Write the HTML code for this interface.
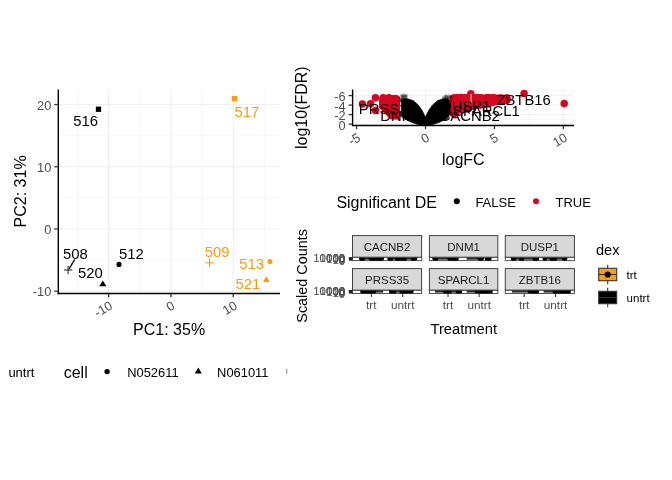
<!DOCTYPE html>
<html><head><meta charset="utf-8"><title>plots</title>
<style>
html,body{margin:0;padding:0;background:#fff;}
body{width:672px;height:480px;overflow:hidden;}
svg{display:block;font-family:"Liberation Sans",sans-serif;will-change:transform;}
</style></head><body>
<svg width="672" height="480" viewBox="0 0 672 480">
<rect width="672" height="480" fill="#fff"/>
<g id="pca">
<line x1="77.5" y1="89.5" x2="77.5" y2="293.45" stroke="#EBEBEB" stroke-width="0.45" />
<line x1="139.8" y1="89.5" x2="139.8" y2="293.45" stroke="#EBEBEB" stroke-width="0.45" />
<line x1="202.1" y1="89.5" x2="202.1" y2="293.45" stroke="#EBEBEB" stroke-width="0.45" />
<line x1="264.4" y1="89.5" x2="264.4" y2="293.45" stroke="#EBEBEB" stroke-width="0.45" />
<line x1="58.3" y1="260.05" x2="280" y2="260.05" stroke="#EBEBEB" stroke-width="0.45" />
<line x1="58.3" y1="197.85" x2="280" y2="197.85" stroke="#EBEBEB" stroke-width="0.45" />
<line x1="58.3" y1="135.65" x2="280" y2="135.65" stroke="#EBEBEB" stroke-width="0.45" />
<line x1="108.65" y1="89.5" x2="108.65" y2="293.45" stroke="#EBEBEB" stroke-width="0.8" />
<line x1="170.95" y1="89.5" x2="170.95" y2="293.45" stroke="#EBEBEB" stroke-width="0.8" />
<line x1="233.25" y1="89.5" x2="233.25" y2="293.45" stroke="#EBEBEB" stroke-width="0.8" />
<line x1="58.3" y1="291.15" x2="280" y2="291.15" stroke="#EBEBEB" stroke-width="0.8" />
<line x1="58.3" y1="228.95" x2="280" y2="228.95" stroke="#EBEBEB" stroke-width="0.8" />
<line x1="58.3" y1="166.75" x2="280" y2="166.75" stroke="#EBEBEB" stroke-width="0.8" />
<line x1="58.3" y1="104.55" x2="280" y2="104.55" stroke="#EBEBEB" stroke-width="0.8" />
<line x1="58.3" y1="89.5" x2="58.3" y2="294.15" stroke="#000" stroke-width="1.4" />
<line x1="57.6" y1="293.45" x2="280" y2="293.45" stroke="#000" stroke-width="1.4" />
<line x1="54.3" y1="291.15" x2="57.7" y2="291.15" stroke="#333333" stroke-width="1.3" />
<text x="51.3" y="296.45" font-size="12.8" fill="#4D4D4D" text-anchor="end" >-10</text>
<line x1="54.3" y1="228.95" x2="57.7" y2="228.95" stroke="#333333" stroke-width="1.3" />
<text x="51.3" y="234.25" font-size="12.8" fill="#4D4D4D" text-anchor="end" >0</text>
<line x1="54.3" y1="166.75" x2="57.7" y2="166.75" stroke="#333333" stroke-width="1.3" />
<text x="51.3" y="172.05" font-size="12.8" fill="#4D4D4D" text-anchor="end" >10</text>
<line x1="54.3" y1="104.55" x2="57.7" y2="104.55" stroke="#333333" stroke-width="1.3" />
<text x="51.3" y="109.85" font-size="12.8" fill="#4D4D4D" text-anchor="end" >20</text>
<line x1="108.65" y1="294.05" x2="108.65" y2="297.15" stroke="#333333" stroke-width="1.3" />
<text transform="translate(108.85,300.15) rotate(-30)" font-size="12.8" fill="#4D4D4D" text-anchor="end" dy="0.72em">-10</text>
<line x1="170.95" y1="294.05" x2="170.95" y2="297.15" stroke="#333333" stroke-width="1.3" />
<text transform="translate(171.15,300.15) rotate(-30)" font-size="12.8" fill="#4D4D4D" text-anchor="end" dy="0.72em">0</text>
<line x1="233.25" y1="294.05" x2="233.25" y2="297.15" stroke="#333333" stroke-width="1.3" />
<text transform="translate(233.45,300.15) rotate(-30)" font-size="12.8" fill="#4D4D4D" text-anchor="end" dy="0.72em">10</text>
<text x="169.1" y="334.6" font-size="16" fill="#000" text-anchor="middle" >PC1: 35%</text>
<text transform="translate(26,191.4) rotate(-90)" font-size="16" fill="#000" text-anchor="middle">PC2: 31%</text>
<rect x="95.85" y="106.6" width="5.3" height="5.3" fill="#000"/>
<rect x="231.85" y="95.95" width="5.3" height="5.3" fill="#FF9A12"/>
<line x1="63.9" y1="270" x2="72.3" y2="270" stroke="#1a1a1a" stroke-width="1" />
<line x1="68.1" y1="265.8" x2="68.1" y2="274.2" stroke="#1a1a1a" stroke-width="1" />
<line x1="205.3" y1="262.75" x2="213.7" y2="262.75" stroke="#FF9A12" stroke-width="1" />
<line x1="209.5" y1="258.55" x2="209.5" y2="266.95" stroke="#FF9A12" stroke-width="1" />
<polygon points="102.8,280.5 99.3,286.3 106.3,286.3" fill="#000"/>
<polygon points="266.4,276.2 262.9,282.1 269.9,282.1" fill="#FF9A12"/>
<circle cx="119" cy="264.4" r="2.55" fill="#000" />
<circle cx="270" cy="261.45" r="2.55" fill="#FF9A12" />
<line x1="74.7" y1="259.7" x2="69" y2="268.9" stroke="#000" stroke-width="1.3" />
<text x="73.2" y="126.3" font-size="14.85" fill="#000" text-anchor="start" >516</text>
<text x="234.4" y="116.6" font-size="14.85" fill="#FF9A12" text-anchor="start" >517</text>
<text x="62.9" y="259.2" font-size="14.85" fill="#000" text-anchor="start" >508</text>
<text x="78" y="278.1" font-size="14.85" fill="#000" text-anchor="start" >520</text>
<text x="119.1" y="259.1" font-size="14.85" fill="#000" text-anchor="start" >512</text>
<text x="204.8" y="256.95" font-size="14.85" fill="#FF9A12" text-anchor="start" >509</text>
<text x="239.2" y="268.95" font-size="14.85" fill="#FF9A12" text-anchor="start" >513</text>
<text x="235.6" y="288.95" font-size="14.85" fill="#FF9A12" text-anchor="start" >521</text>
</g>
<g id="pcalegend">
<text x="8.4" y="377.1" font-size="13" fill="#000" text-anchor="start" >untrt</text>
<text x="63.7" y="377.9" font-size="16" fill="#000" text-anchor="start" >cell</text>
<circle cx="107.1" cy="371.6" r="2.7" fill="#000" />
<text x="127.2" y="377" font-size="12.9" fill="#000" text-anchor="start" >N052611</text>
<polygon points="198.3,367.4 194.8,373.4 201.8,373.4" fill="#000"/>
<text x="217.1" y="377" font-size="12.9" fill="#000" text-anchor="start" >N061011</text>
<rect x="285.9" y="368.9" width="1.5" height="4.9" fill="#A8A8A8"/>
</g>
<g id="volcano">
<clipPath id="vclip"><rect x="352.6" y="89.5" width="221.39999999999998" height="35.95"/></clipPath>
<line x1="391.02" y1="89.5" x2="391.02" y2="125.45" stroke="#EBEBEB" stroke-width="0.45" />
<line x1="459.98" y1="89.5" x2="459.98" y2="125.45" stroke="#EBEBEB" stroke-width="0.45" />
<line x1="528.92" y1="89.5" x2="528.92" y2="125.45" stroke="#EBEBEB" stroke-width="0.45" />
<line x1="352.6" y1="90.85" x2="574" y2="90.85" stroke="#EBEBEB" stroke-width="0.45" />
<line x1="352.6" y1="100.35" x2="574" y2="100.35" stroke="#EBEBEB" stroke-width="0.45" />
<line x1="352.6" y1="109.85" x2="574" y2="109.85" stroke="#EBEBEB" stroke-width="0.45" />
<line x1="352.6" y1="119.35" x2="574" y2="119.35" stroke="#EBEBEB" stroke-width="0.45" />
<line x1="356.55" y1="89.5" x2="356.55" y2="125.45" stroke="#EBEBEB" stroke-width="0.8" />
<line x1="425.5" y1="89.5" x2="425.5" y2="125.45" stroke="#EBEBEB" stroke-width="0.8" />
<line x1="494.45" y1="89.5" x2="494.45" y2="125.45" stroke="#EBEBEB" stroke-width="0.8" />
<line x1="563.4" y1="89.5" x2="563.4" y2="125.45" stroke="#EBEBEB" stroke-width="0.8" />
<line x1="352.6" y1="95.6" x2="574" y2="95.6" stroke="#EBEBEB" stroke-width="0.8" />
<line x1="352.6" y1="105.1" x2="574" y2="105.1" stroke="#EBEBEB" stroke-width="0.8" />
<line x1="352.6" y1="114.6" x2="574" y2="114.6" stroke="#EBEBEB" stroke-width="0.8" />
<line x1="352.6" y1="124.1" x2="574" y2="124.1" stroke="#EBEBEB" stroke-width="0.8" />
<g clip-path="url(#vclip)">
<circle cx="362.4" cy="104.1" r="3.75" fill="#D6061F" />
<circle cx="370.6" cy="103.8" r="3.75" fill="#D6061F" />
<circle cx="375.4" cy="97.7" r="3.75" fill="#D6061F" />
<circle cx="375.5" cy="110.6" r="3.75" fill="#D6061F" />
<circle cx="524.1" cy="93.6" r="3.75" fill="#D6061F" />
<circle cx="564.2" cy="103.6" r="3.75" fill="#D6061F" />
<circle cx="470.8" cy="93.8" r="3.75" fill="#D6061F" />
<circle cx="487.6" cy="97.5" r="3.75" fill="#D6061F" />
<circle cx="383" cy="98.91" r="3.75" fill="#D6061F" />
<circle cx="383.15" cy="101.15" r="3.75" fill="#D6061F" />
<circle cx="383.04" cy="103.66" r="3.75" fill="#D6061F" />
<circle cx="383" cy="106.06" r="3.75" fill="#D6061F" />
<circle cx="383" cy="106" r="3.75" fill="#D6061F" />
<circle cx="384.84" cy="99.1" r="3.75" fill="#D6061F" />
<circle cx="384.87" cy="101.16" r="3.75" fill="#D6061F" />
<circle cx="385.22" cy="103.98" r="3.75" fill="#D6061F" />
<circle cx="384.92" cy="105.86" r="3.75" fill="#D6061F" />
<circle cx="385.43" cy="108.66" r="3.75" fill="#D6061F" />
<circle cx="385.3" cy="108.48" r="3.75" fill="#D6061F" />
<circle cx="387.68" cy="99.08" r="3.75" fill="#D6061F" />
<circle cx="388.08" cy="101.13" r="3.75" fill="#D6061F" />
<circle cx="387.96" cy="103.6" r="3.75" fill="#D6061F" />
<circle cx="387.24" cy="105.78" r="3.75" fill="#D6061F" />
<circle cx="387.41" cy="108.57" r="3.75" fill="#D6061F" />
<circle cx="387.28" cy="110.71" r="3.75" fill="#D6061F" />
<circle cx="387.6" cy="110.96" r="3.75" fill="#D6061F" />
<circle cx="390.04" cy="99.06" r="3.75" fill="#D6061F" />
<circle cx="389.95" cy="101.14" r="3.75" fill="#D6061F" />
<circle cx="389.46" cy="103.54" r="3.75" fill="#D6061F" />
<circle cx="390.08" cy="106" r="3.75" fill="#D6061F" />
<circle cx="389.71" cy="108.41" r="3.75" fill="#D6061F" />
<circle cx="389.85" cy="110.51" r="3.75" fill="#D6061F" />
<circle cx="390.19" cy="113.09" r="3.75" fill="#D6061F" />
<circle cx="389.9" cy="113.44" r="3.75" fill="#D6061F" />
<circle cx="391.94" cy="99.2" r="3.75" fill="#D6061F" />
<circle cx="392.23" cy="101.71" r="3.75" fill="#D6061F" />
<circle cx="392.43" cy="103.6" r="3.75" fill="#D6061F" />
<circle cx="392.68" cy="105.78" r="3.75" fill="#D6061F" />
<circle cx="392.12" cy="108.53" r="3.75" fill="#D6061F" />
<circle cx="391.85" cy="110.64" r="3.75" fill="#D6061F" />
<circle cx="391.74" cy="113.07" r="3.75" fill="#D6061F" />
<circle cx="392.46" cy="115.3" r="3.75" fill="#D6061F" />
<circle cx="392.2" cy="115.8" r="3.75" fill="#D6061F" />
<circle cx="394.88" cy="99.02" r="3.75" fill="#D6061F" />
<circle cx="394.7" cy="101.52" r="3.75" fill="#D6061F" />
<circle cx="394.58" cy="103.72" r="3.75" fill="#D6061F" />
<circle cx="394.84" cy="106.36" r="3.75" fill="#D6061F" />
<circle cx="394.47" cy="108.46" r="3.75" fill="#D6061F" />
<circle cx="394.06" cy="110.79" r="3.75" fill="#D6061F" />
<circle cx="394.65" cy="113.3" r="3.75" fill="#D6061F" />
<circle cx="394.82" cy="115.1" r="3.75" fill="#D6061F" />
<circle cx="394.5" cy="115.8" r="3.75" fill="#D6061F" />
<circle cx="383" cy="99" r="3.75" fill="#D6061F" />
<circle cx="383" cy="101.3" r="3.75" fill="#D6061F" />
<circle cx="383" cy="103.6" r="3.75" fill="#D6061F" />
<circle cx="383" cy="105.9" r="3.75" fill="#D6061F" />
<circle cx="383" cy="106" r="3.75" fill="#D6061F" />
<circle cx="396.4" cy="99" r="3.75" fill="#D6061F" />
<circle cx="396.4" cy="101.3" r="3.75" fill="#D6061F" />
<circle cx="396.4" cy="103.6" r="3.75" fill="#D6061F" />
<circle cx="396.4" cy="105.9" r="3.75" fill="#D6061F" />
<circle cx="396.4" cy="108.2" r="3.75" fill="#D6061F" />
<circle cx="396.4" cy="110.5" r="3.75" fill="#D6061F" />
<circle cx="396.4" cy="112.8" r="3.75" fill="#D6061F" />
<circle cx="396.4" cy="115.1" r="3.75" fill="#D6061F" />
<circle cx="396.4" cy="115.8" r="3.75" fill="#D6061F" />
<circle cx="383.2" cy="97.8" r="3.75" fill="#D6061F" />
<circle cx="389" cy="97.75" r="3.75" fill="#D6061F" />
<circle cx="395.2" cy="98.4" r="3.75" fill="#D6061F" />
<circle cx="386.2" cy="98.7" r="3.75" fill="#D6061F" />
<circle cx="392.2" cy="98.8" r="3.75" fill="#D6061F" />
<circle cx="396.4" cy="99.4" r="3.75" fill="#D6061F" />
<circle cx="453.7" cy="98.37" r="3.75" fill="#D6061F" />
<circle cx="453.7" cy="100.52" r="3.75" fill="#D6061F" />
<circle cx="453.7" cy="102.58" r="3.75" fill="#D6061F" />
<circle cx="453.7" cy="105.34" r="3.75" fill="#D6061F" />
<circle cx="453.7" cy="107.27" r="3.75" fill="#D6061F" />
<circle cx="453.7" cy="110.01" r="3.75" fill="#D6061F" />
<circle cx="453.7" cy="112.01" r="3.75" fill="#D6061F" />
<circle cx="453.7" cy="113.5" r="3.75" fill="#D6061F" />
<circle cx="456.05" cy="98.52" r="3.75" fill="#D6061F" />
<circle cx="456.32" cy="100.8" r="3.75" fill="#D6061F" />
<circle cx="455.78" cy="102.79" r="3.75" fill="#D6061F" />
<circle cx="455.86" cy="105.42" r="3.75" fill="#D6061F" />
<circle cx="456.46" cy="107.21" r="3.75" fill="#D6061F" />
<circle cx="455.68" cy="109.56" r="3.75" fill="#D6061F" />
<circle cx="455.73" cy="112.04" r="3.75" fill="#D6061F" />
<circle cx="456" cy="112.68" r="3.75" fill="#D6061F" />
<circle cx="458.39" cy="98.08" r="3.75" fill="#D6061F" />
<circle cx="457.8" cy="100.49" r="3.75" fill="#D6061F" />
<circle cx="458.17" cy="102.9" r="3.75" fill="#D6061F" />
<circle cx="458.75" cy="105.28" r="3.75" fill="#D6061F" />
<circle cx="458.32" cy="107.53" r="3.75" fill="#D6061F" />
<circle cx="458.48" cy="109.44" r="3.75" fill="#D6061F" />
<circle cx="458.3" cy="109.98" r="3.75" fill="#D6061F" />
<circle cx="461" cy="98.45" r="3.75" fill="#D6061F" />
<circle cx="460.97" cy="100.76" r="3.75" fill="#D6061F" />
<circle cx="460.49" cy="102.78" r="3.75" fill="#D6061F" />
<circle cx="460.2" cy="105.24" r="3.75" fill="#D6061F" />
<circle cx="460.16" cy="107.15" r="3.75" fill="#D6061F" />
<circle cx="460.6" cy="108.09" r="3.75" fill="#D6061F" />
<circle cx="462.61" cy="98.01" r="3.75" fill="#D6061F" />
<circle cx="462.74" cy="100.24" r="3.75" fill="#D6061F" />
<circle cx="462.4" cy="102.61" r="3.75" fill="#D6061F" />
<circle cx="462.5" cy="105.05" r="3.75" fill="#D6061F" />
<circle cx="462.43" cy="107.71" r="3.75" fill="#D6061F" />
<circle cx="462.9" cy="107.65" r="3.75" fill="#D6061F" />
<circle cx="465.31" cy="98" r="3.75" fill="#D6061F" />
<circle cx="464.95" cy="100.44" r="3.75" fill="#D6061F" />
<circle cx="465.06" cy="102.59" r="3.75" fill="#D6061F" />
<circle cx="465.55" cy="105.5" r="3.75" fill="#D6061F" />
<circle cx="465.2" cy="107.21" r="3.75" fill="#D6061F" />
<circle cx="467.47" cy="98.24" r="3.75" fill="#D6061F" />
<circle cx="467.09" cy="100.27" r="3.75" fill="#D6061F" />
<circle cx="467.34" cy="102.69" r="3.75" fill="#D6061F" />
<circle cx="467.83" cy="104.91" r="3.75" fill="#D6061F" />
<circle cx="467.5" cy="106.78" r="3.75" fill="#D6061F" />
<circle cx="469.32" cy="98.57" r="3.75" fill="#D6061F" />
<circle cx="469.83" cy="100.3" r="3.75" fill="#D6061F" />
<circle cx="469.84" cy="102.52" r="3.75" fill="#D6061F" />
<circle cx="469.83" cy="105.48" r="3.75" fill="#D6061F" />
<circle cx="469.8" cy="106.34" r="3.75" fill="#D6061F" />
<circle cx="472.46" cy="98.39" r="3.75" fill="#D6061F" />
<circle cx="471.86" cy="100.46" r="3.75" fill="#D6061F" />
<circle cx="471.77" cy="103.04" r="3.75" fill="#D6061F" />
<circle cx="472.13" cy="105.35" r="3.75" fill="#D6061F" />
<circle cx="472.1" cy="106.01" r="3.75" fill="#D6061F" />
<circle cx="474.23" cy="98.06" r="3.75" fill="#D6061F" />
<circle cx="474.71" cy="100.89" r="3.75" fill="#D6061F" />
<circle cx="474.75" cy="103.06" r="3.75" fill="#D6061F" />
<circle cx="474.72" cy="105.32" r="3.75" fill="#D6061F" />
<circle cx="474.4" cy="105.68" r="3.75" fill="#D6061F" />
<circle cx="476.43" cy="98.26" r="3.75" fill="#D6061F" />
<circle cx="476.56" cy="100.22" r="3.75" fill="#D6061F" />
<circle cx="476.23" cy="102.7" r="3.75" fill="#D6061F" />
<circle cx="476.46" cy="105.28" r="3.75" fill="#D6061F" />
<circle cx="476.7" cy="105.36" r="3.75" fill="#D6061F" />
<circle cx="479.46" cy="98.21" r="3.75" fill="#D6061F" />
<circle cx="479.44" cy="100.89" r="3.75" fill="#D6061F" />
<circle cx="479.46" cy="102.76" r="3.75" fill="#D6061F" />
<circle cx="478.72" cy="104.96" r="3.75" fill="#D6061F" />
<circle cx="479" cy="105.04" r="3.75" fill="#D6061F" />
<circle cx="481" cy="98.04" r="3.75" fill="#D6061F" />
<circle cx="481.42" cy="100.83" r="3.75" fill="#D6061F" />
<circle cx="481.64" cy="102.84" r="3.75" fill="#D6061F" />
<circle cx="481.3" cy="104.72" r="3.75" fill="#D6061F" />
<circle cx="483.75" cy="98.46" r="3.75" fill="#D6061F" />
<circle cx="483.18" cy="100.66" r="3.75" fill="#D6061F" />
<circle cx="484.01" cy="103.05" r="3.75" fill="#D6061F" />
<circle cx="483.6" cy="104.4" r="3.75" fill="#D6061F" />
<circle cx="486.15" cy="98.23" r="3.75" fill="#D6061F" />
<circle cx="485.58" cy="100.75" r="3.75" fill="#D6061F" />
<circle cx="485.73" cy="103.06" r="3.75" fill="#D6061F" />
<circle cx="485.9" cy="103.97" r="3.75" fill="#D6061F" />
<circle cx="488.67" cy="98.18" r="3.75" fill="#D6061F" />
<circle cx="488.1" cy="100.86" r="3.75" fill="#D6061F" />
<circle cx="488.42" cy="102.62" r="3.75" fill="#D6061F" />
<circle cx="488.2" cy="103.37" r="3.75" fill="#D6061F" />
<circle cx="490.13" cy="98.01" r="3.75" fill="#D6061F" />
<circle cx="490.9" cy="100.76" r="3.75" fill="#D6061F" />
<circle cx="490.15" cy="103.08" r="3.75" fill="#D6061F" />
<circle cx="490.5" cy="102.77" r="3.75" fill="#D6061F" />
<circle cx="493.28" cy="98.36" r="3.75" fill="#D6061F" />
<circle cx="492.65" cy="100.58" r="3.75" fill="#D6061F" />
<circle cx="492.8" cy="102.17" r="3.75" fill="#D6061F" />
<circle cx="494.73" cy="97.91" r="3.75" fill="#D6061F" />
<circle cx="495.57" cy="100.65" r="3.75" fill="#D6061F" />
<circle cx="495.1" cy="101.59" r="3.75" fill="#D6061F" />
<circle cx="497.43" cy="98.55" r="3.75" fill="#D6061F" />
<circle cx="497.33" cy="100.81" r="3.75" fill="#D6061F" />
<circle cx="497.4" cy="101.28" r="3.75" fill="#D6061F" />
<circle cx="500.03" cy="98.05" r="3.75" fill="#D6061F" />
<circle cx="499.45" cy="100.41" r="3.75" fill="#D6061F" />
<circle cx="499.7" cy="100.97" r="3.75" fill="#D6061F" />
<circle cx="501.74" cy="98.31" r="3.75" fill="#D6061F" />
<circle cx="501.76" cy="100.49" r="3.75" fill="#D6061F" />
<circle cx="502" cy="100.67" r="3.75" fill="#D6061F" />
<circle cx="503.93" cy="98.54" r="3.75" fill="#D6061F" />
<circle cx="504.3" cy="100.36" r="3.75" fill="#D6061F" />
<circle cx="506.45" cy="98.22" r="3.75" fill="#D6061F" />
<circle cx="506.6" cy="100.05" r="3.75" fill="#D6061F" />
<circle cx="453.7" cy="98.1" r="3.75" fill="#D6061F" />
<circle cx="453.7" cy="100.4" r="3.75" fill="#D6061F" />
<circle cx="453.7" cy="102.7" r="3.75" fill="#D6061F" />
<circle cx="453.7" cy="105" r="3.75" fill="#D6061F" />
<circle cx="453.7" cy="107.3" r="3.75" fill="#D6061F" />
<circle cx="453.7" cy="109.6" r="3.75" fill="#D6061F" />
<circle cx="453.7" cy="111.9" r="3.75" fill="#D6061F" />
<circle cx="453.7" cy="113.5" r="3.75" fill="#D6061F" />
<circle cx="507" cy="98.1" r="3.75" fill="#D6061F" />
<circle cx="507" cy="100" r="3.75" fill="#D6061F" />
<circle cx="461" cy="97.5" r="3.75" fill="#D6061F" />
<circle cx="477.5" cy="97.6" r="3.75" fill="#D6061F" />
<circle cx="492.5" cy="97.8" r="3.75" fill="#D6061F" />
<circle cx="456.5" cy="97.7" r="3.75" fill="#D6061F" />
<circle cx="482" cy="97.9" r="3.75" fill="#D6061F" />
<circle cx="465.5" cy="97.8" r="3.75" fill="#D6061F" />
<filter id="soft" x="-10%" y="-10%" width="120%" height="120%"><feGaussianBlur stdDeviation="0.5"/></filter>
<g filter="url(#soft)">
<polygon points="425.4,117.3 428.6,110.6 432.6,104.9 437.6,100.6 442.6,99 445.6,98.6 448.2,99.2 449.5,101 450.3,107 449.9,113 448.3,117 445.6,119.3 440,122 434.4,124 430.2,124.9 425.4,125.8" fill="#000" stroke="#000" stroke-width="0.7" stroke-linejoin="round"/>
<polygon points="425.4,117.3 422.2,110.6 418.2,104.9 413.2,100.6 408.2,99 405.2,98.6 402.6,99.2 401.5,101 401.5,107 401.5,113 402.5,117 405.2,119.3 410.8,122 416.4,124 420.6,124.9 425.4,125.8" fill="#000" stroke="#000" stroke-width="0.7" stroke-linejoin="round"/>
</g>
<circle cx="449.22" cy="101.19" r="1.4" fill="#000" fill-opacity="0.07"/>
<circle cx="401.26" cy="100.44" r="1.79" fill="#000" fill-opacity="0.17"/>
<circle cx="406.03" cy="98.67" r="1.88" fill="#000" fill-opacity="0.13"/>
<circle cx="448.24" cy="98.8" r="1.69" fill="#000" fill-opacity="0.17"/>
<circle cx="405.51" cy="97.23" r="1.92" fill="#000" fill-opacity="0.13"/>
<circle cx="402.03" cy="101.47" r="1.65" fill="#000" fill-opacity="0.14"/>
<circle cx="402.49" cy="98.23" r="1.73" fill="#000" fill-opacity="0.12"/>
<circle cx="402.45" cy="101.24" r="2.05" fill="#000" fill-opacity="0.09"/>
<circle cx="401.49" cy="95.92" r="1.4" fill="#000" fill-opacity="0.12"/>
<circle cx="402.64" cy="98.08" r="1.47" fill="#000" fill-opacity="0.10"/>
<circle cx="401.1" cy="96.01" r="1.87" fill="#000" fill-opacity="0.15"/>
<circle cx="405.48" cy="96.24" r="1.67" fill="#000" fill-opacity="0.16"/>
<circle cx="404.49" cy="98.64" r="2.09" fill="#000" fill-opacity="0.17"/>
<circle cx="402.4" cy="102.07" r="1.62" fill="#000" fill-opacity="0.11"/>
<circle cx="445.77" cy="100.35" r="1.32" fill="#000" fill-opacity="0.13"/>
<circle cx="448.38" cy="97.75" r="1.71" fill="#000" fill-opacity="0.09"/>
<circle cx="406.43" cy="101.86" r="1.48" fill="#000" fill-opacity="0.18"/>
<circle cx="405.39" cy="95.54" r="1.92" fill="#000" fill-opacity="0.09"/>
<circle cx="401.63" cy="100.99" r="1.84" fill="#000" fill-opacity="0.19"/>
<circle cx="444.62" cy="101.84" r="1.76" fill="#000" fill-opacity="0.16"/>
<circle cx="405.3" cy="100.93" r="1.45" fill="#000" fill-opacity="0.18"/>
<circle cx="449.98" cy="99.39" r="1.94" fill="#000" fill-opacity="0.06"/>
<circle cx="406.75" cy="101.49" r="1.66" fill="#000" fill-opacity="0.10"/>
<circle cx="449.9" cy="96.8" r="1.4" fill="#000" fill-opacity="0.13"/>
<circle cx="400.82" cy="101.77" r="1.51" fill="#000" fill-opacity="0.08"/>
<circle cx="447.87" cy="98.83" r="1.46" fill="#000" fill-opacity="0.12"/>
<circle cx="405.36" cy="100.96" r="2.1" fill="#000" fill-opacity="0.06"/>
<circle cx="402.22" cy="98.91" r="1.45" fill="#000" fill-opacity="0.12"/>
<circle cx="444.32" cy="101.16" r="1.65" fill="#000" fill-opacity="0.12"/>
<circle cx="450.2" cy="97.06" r="1.47" fill="#000" fill-opacity="0.08"/>
<circle cx="401.54" cy="99.96" r="1.81" fill="#000" fill-opacity="0.11"/>
<circle cx="450.28" cy="100.81" r="1.31" fill="#000" fill-opacity="0.14"/>
<circle cx="446.53" cy="95.56" r="1.83" fill="#000" fill-opacity="0.11"/>
<circle cx="447.67" cy="99.99" r="1.34" fill="#000" fill-opacity="0.08"/>
<circle cx="446.63" cy="97.03" r="2.07" fill="#000" fill-opacity="0.20"/>
<circle cx="445.26" cy="102.12" r="1.55" fill="#000" fill-opacity="0.10"/>
<circle cx="404.92" cy="95.81" r="1.52" fill="#000" fill-opacity="0.15"/>
<circle cx="403.77" cy="95.16" r="1.51" fill="#000" fill-opacity="0.06"/>
<circle cx="447.59" cy="97.88" r="1.54" fill="#000" fill-opacity="0.14"/>
<circle cx="403.22" cy="98.84" r="1.9" fill="#000" fill-opacity="0.15"/>
<circle cx="448.8" cy="100.1" r="1.7" fill="#000" fill-opacity="0.09"/>
<circle cx="406.9" cy="101.31" r="2.01" fill="#000" fill-opacity="0.14"/>
<circle cx="401.01" cy="100.25" r="1.75" fill="#000" fill-opacity="0.17"/>
<circle cx="401.58" cy="99.1" r="2.01" fill="#000" fill-opacity="0.15"/>
<circle cx="406.62" cy="95.65" r="1.81" fill="#000" fill-opacity="0.19"/>
<circle cx="449.28" cy="98.91" r="1.8" fill="#000" fill-opacity="0.14"/>
<circle cx="403.87" cy="95.16" r="1.94" fill="#000" fill-opacity="0.16"/>
<circle cx="402.72" cy="95.51" r="1.89" fill="#000" fill-opacity="0.09"/>
<circle cx="401.45" cy="96.61" r="1.91" fill="#000" fill-opacity="0.08"/>
<circle cx="446.96" cy="97.85" r="1.68" fill="#000" fill-opacity="0.15"/>
<circle cx="403" cy="99.63" r="1.36" fill="#000" fill-opacity="0.07"/>
<circle cx="448.03" cy="99.97" r="1.8" fill="#000" fill-opacity="0.07"/>
<circle cx="444.01" cy="97.28" r="1.84" fill="#000" fill-opacity="0.15"/>
<circle cx="445.58" cy="98.91" r="1.67" fill="#000" fill-opacity="0.12"/>
<circle cx="400.45" cy="98.76" r="1.55" fill="#000" fill-opacity="0.06"/>
<circle cx="443.72" cy="98.65" r="1.96" fill="#000" fill-opacity="0.20"/>
<circle cx="450.36" cy="97.61" r="2.03" fill="#000" fill-opacity="0.19"/>
<circle cx="403.25" cy="96.09" r="1.72" fill="#000" fill-opacity="0.19"/>
<circle cx="403.1" cy="99.56" r="1.52" fill="#000" fill-opacity="0.07"/>
<circle cx="445.17" cy="101.65" r="1.69" fill="#000" fill-opacity="0.05"/>
<circle cx="400.74" cy="99.72" r="1.62" fill="#000" fill-opacity="0.16"/>
<circle cx="445.94" cy="97.46" r="1.97" fill="#000" fill-opacity="0.05"/>
<circle cx="449.31" cy="95.8" r="2.04" fill="#000" fill-opacity="0.16"/>
<circle cx="445.32" cy="95.72" r="1.61" fill="#000" fill-opacity="0.18"/>
<circle cx="404.75" cy="98.24" r="1.52" fill="#000" fill-opacity="0.06"/>
<circle cx="406.85" cy="100.07" r="1.81" fill="#000" fill-opacity="0.07"/>
<circle cx="446.57" cy="97.4" r="1.92" fill="#000" fill-opacity="0.17"/>
<circle cx="449.61" cy="100.68" r="1.8" fill="#000" fill-opacity="0.19"/>
<circle cx="402.31" cy="95.36" r="1.89" fill="#000" fill-opacity="0.12"/>
<circle cx="402.82" cy="97.08" r="1.34" fill="#000" fill-opacity="0.19"/>
<circle cx="406.04" cy="98.25" r="1.53" fill="#000" fill-opacity="0.09"/>
<circle cx="446.36" cy="96.87" r="1.69" fill="#000" fill-opacity="0.15"/>
<circle cx="406.06" cy="96.46" r="1.47" fill="#000" fill-opacity="0.19"/>
<circle cx="447.34" cy="98.32" r="1.57" fill="#000" fill-opacity="0.16"/>
<circle cx="444.55" cy="96.69" r="1.37" fill="#000" fill-opacity="0.10"/>
<circle cx="405.03" cy="97.84" r="1.95" fill="#000" fill-opacity="0.08"/>
<circle cx="402.1" cy="97.92" r="1.63" fill="#000" fill-opacity="0.13"/>
<circle cx="445.44" cy="100.59" r="1.7" fill="#000" fill-opacity="0.14"/>
<circle cx="444.46" cy="98.91" r="1.8" fill="#000" fill-opacity="0.18"/>
<circle cx="406.57" cy="101.72" r="1.61" fill="#000" fill-opacity="0.15"/>
<circle cx="450.09" cy="100.91" r="2" fill="#000" fill-opacity="0.05"/>
<circle cx="404.31" cy="100.59" r="1.94" fill="#000" fill-opacity="0.20"/>
<circle cx="443.6" cy="98.18" r="2.04" fill="#000" fill-opacity="0.17"/>
<circle cx="450.21" cy="96.64" r="1.39" fill="#000" fill-opacity="0.07"/>
<circle cx="400.8" cy="100.01" r="1.82" fill="#000" fill-opacity="0.16"/>
<circle cx="444.18" cy="100.87" r="1.3" fill="#000" fill-opacity="0.07"/>
<circle cx="402.81" cy="97.21" r="1.4" fill="#000" fill-opacity="0.09"/>
<circle cx="448.35" cy="95.82" r="1.36" fill="#000" fill-opacity="0.13"/>
<circle cx="404.56" cy="96.78" r="1.78" fill="#000" fill-opacity="0.05"/>
<circle cx="450.38" cy="96.84" r="1.55" fill="#000" fill-opacity="0.18"/>
<circle cx="401.01" cy="115.56" r="1.48" fill="#000" fill-opacity="0.24"/>
<circle cx="451.2" cy="112.41" r="1.02" fill="#000" fill-opacity="0.28"/>
<circle cx="450.96" cy="112.61" r="1.12" fill="#000" fill-opacity="0.20"/>
<circle cx="448.76" cy="117.39" r="1.12" fill="#000" fill-opacity="0.18"/>
<circle cx="403.02" cy="117.98" r="1.02" fill="#000" fill-opacity="0.29"/>
<circle cx="447.56" cy="117.74" r="1.02" fill="#000" fill-opacity="0.19"/>
<circle cx="447.79" cy="117.7" r="1.2" fill="#000" fill-opacity="0.14"/>
<circle cx="400.14" cy="115.64" r="1.45" fill="#000" fill-opacity="0.11"/>
<circle cx="403.81" cy="118.91" r="1.26" fill="#000" fill-opacity="0.18"/>
<circle cx="399.94" cy="113.38" r="1.17" fill="#000" fill-opacity="0.24"/>
<circle cx="449.18" cy="117.5" r="1.1" fill="#000" fill-opacity="0.14"/>
<circle cx="450.89" cy="112.24" r="1.3" fill="#000" fill-opacity="0.18"/>
<circle cx="446.24" cy="119.39" r="0.95" fill="#000" fill-opacity="0.12"/>
<circle cx="446.71" cy="119.17" r="0.97" fill="#000" fill-opacity="0.29"/>
<circle cx="400.56" cy="114.85" r="1.38" fill="#000" fill-opacity="0.12"/>
<circle cx="450.47" cy="113.47" r="1.22" fill="#000" fill-opacity="0.19"/>
<circle cx="450.35" cy="114.73" r="1.15" fill="#000" fill-opacity="0.26"/>
<circle cx="450.84" cy="112.3" r="0.92" fill="#000" fill-opacity="0.11"/>
<circle cx="400.16" cy="113.93" r="1.1" fill="#000" fill-opacity="0.15"/>
<circle cx="401.02" cy="113.97" r="1.33" fill="#000" fill-opacity="0.16"/>
<circle cx="450.43" cy="114.23" r="1.38" fill="#000" fill-opacity="0.29"/>
<circle cx="400.43" cy="112.18" r="1.04" fill="#000" fill-opacity="0.20"/>
<circle cx="446.43" cy="119.15" r="1.16" fill="#000" fill-opacity="0.20"/>
<circle cx="451.04" cy="113.37" r="1.38" fill="#000" fill-opacity="0.25"/>
<circle cx="401.93" cy="116.55" r="1.12" fill="#000" fill-opacity="0.26"/>
<circle cx="400.92" cy="115.84" r="1.14" fill="#000" fill-opacity="0.13"/>
<circle cx="451.4" cy="112.49" r="1.1" fill="#000" fill-opacity="0.30"/>
<circle cx="404.3" cy="119.41" r="1.06" fill="#000" fill-opacity="0.12"/>
<circle cx="399.71" cy="115.16" r="1" fill="#000" fill-opacity="0.13"/>
<circle cx="448.88" cy="116.65" r="1.3" fill="#000" fill-opacity="0.25"/>
<circle cx="402.95" cy="117.85" r="1.06" fill="#000" fill-opacity="0.15"/>
<circle cx="451.12" cy="113.49" r="1.05" fill="#000" fill-opacity="0.15"/>
<circle cx="400.01" cy="114.11" r="0.94" fill="#000" fill-opacity="0.15"/>
<circle cx="401.35" cy="115.8" r="1.04" fill="#000" fill-opacity="0.26"/>
<circle cx="446.73" cy="119.43" r="1.39" fill="#000" fill-opacity="0.27"/>
<circle cx="451.17" cy="112.3" r="1.08" fill="#000" fill-opacity="0.12"/>
<circle cx="401.6" cy="116.5" r="0.95" fill="#000" fill-opacity="0.20"/>
<circle cx="401.14" cy="115.37" r="1.06" fill="#000" fill-opacity="0.26"/>
<circle cx="400.36" cy="112.79" r="1.03" fill="#000" fill-opacity="0.17"/>
<circle cx="400.22" cy="112.33" r="1.5" fill="#000" fill-opacity="0.11"/>
</g>
<line x1="471" y1="93.9" x2="471" y2="103" stroke="#C4B2B5" stroke-width="1.25" />
<line x1="352.6" y1="89.5" x2="352.6" y2="126.15" stroke="#000" stroke-width="1.4" />
<line x1="351.9" y1="125.45" x2="574" y2="125.45" stroke="#000" stroke-width="1.4" />
<line x1="348.6" y1="95.6" x2="352" y2="95.6" stroke="#333333" stroke-width="1.3" />
<text x="345.6" y="101" font-size="12.8" fill="#4D4D4D" text-anchor="end" >-6</text>
<line x1="348.6" y1="105.1" x2="352" y2="105.1" stroke="#333333" stroke-width="1.3" />
<text x="345.6" y="110.5" font-size="12.8" fill="#4D4D4D" text-anchor="end" >-4</text>
<line x1="348.6" y1="114.6" x2="352" y2="114.6" stroke="#333333" stroke-width="1.3" />
<text x="345.6" y="120" font-size="12.8" fill="#4D4D4D" text-anchor="end" >-2</text>
<line x1="348.6" y1="124.1" x2="352" y2="124.1" stroke="#333333" stroke-width="1.3" />
<text x="345.6" y="129.5" font-size="12.8" fill="#4D4D4D" text-anchor="end" >0</text>
<line x1="356.55" y1="126.05" x2="356.55" y2="129.15" stroke="#333333" stroke-width="1.3" />
<text transform="translate(356.75,132.15) rotate(-30)" font-size="12.8" fill="#4D4D4D" text-anchor="end" dy="0.72em">-5</text>
<line x1="425.5" y1="126.05" x2="425.5" y2="129.15" stroke="#333333" stroke-width="1.3" />
<text transform="translate(425.7,132.15) rotate(-30)" font-size="12.8" fill="#4D4D4D" text-anchor="end" dy="0.72em">0</text>
<line x1="494.45" y1="126.05" x2="494.45" y2="129.15" stroke="#333333" stroke-width="1.3" />
<text transform="translate(494.65,132.15) rotate(-30)" font-size="12.8" fill="#4D4D4D" text-anchor="end" dy="0.72em">5</text>
<line x1="563.4" y1="126.05" x2="563.4" y2="129.15" stroke="#333333" stroke-width="1.3" />
<text transform="translate(563.6,132.15) rotate(-30)" font-size="12.8" fill="#4D4D4D" text-anchor="end" dy="0.72em">10</text>
<text x="463.3" y="164.6" font-size="16" fill="#000" text-anchor="middle" >logFC</text>
<text transform="translate(307,107.7) rotate(-90)" font-size="16" fill="#000" text-anchor="middle">log10(FDR)</text>
<text x="358.8" y="113.6" font-size="14.85" fill="#000" text-anchor="start" >PRSS35</text>
<text x="380.2" y="120.5" font-size="14.85" fill="#000" text-anchor="start" >DNM1</text>
<text x="441" y="110.7" font-size="14.85" fill="#000" text-anchor="start" >DUSP1</text>
<text x="496.4" y="105.1" font-size="14.85" fill="#000" text-anchor="start" >ZBTB16</text>
<text x="453.2" y="116.2" font-size="14.85" fill="#000" text-anchor="start" >SPARCL1</text>
<text x="439.6" y="120.8" font-size="14.85" fill="#000" text-anchor="start" >CACNB2</text>
<text x="336.4" y="208" font-size="16" fill="#000" text-anchor="start" >Significant DE</text>
<circle cx="456.8" cy="201.3" r="3" fill="#000" />
<text x="475.4" y="207" font-size="13" fill="#000" text-anchor="start" >FALSE</text>
<circle cx="536" cy="201.3" r="3" fill="#D6061F" />
<text x="555.5" y="207" font-size="13" fill="#000" text-anchor="start" >TRUE</text>
</g>
<g id="facets">
<rect x="352.5" y="257.2" width="69.1" height="3.4" fill="#fff" stroke="#555" stroke-width="1"/>
<path d="M359,257.2 H365.3 V258.8 Q365.3,260.7 363.4,260.7 H360.9 Q359,260.7 359,258.8 Z" fill="#000"/>
<rect x="365" y="257.2" width="4" height="2.5" fill="#2a2a2a"/>
<path d="M368.7,257.2 H384 V258.8 Q384,260.7 382.1,260.7 H370.6 Q368.7,260.7 368.7,258.8 Z" fill="#000"/>
<path d="M387.3,257.2 H393.6 V258.8 Q393.6,260.7 391.7,260.7 H389.2 Q387.3,260.7 387.3,258.8 Z" fill="#000"/>
<rect x="393.3" y="257.2" width="1.7" height="2.5" fill="#2a2a2a"/>
<path d="M394.7,257.2 H407.1 V258.8 Q407.1,260.7 405.2,260.7 H396.6 Q394.7,260.7 394.7,258.8 Z" fill="#000"/>
<rect x="406.8" y="257.2" width="4" height="2.5" fill="#2a2a2a"/>
<path d="M410.5,257.2 H417.3 V258.8 Q417.3,260.7 415.4,260.7 H412.4 Q410.5,260.7 410.5,258.8 Z" fill="#000"/>
<rect x="352.5" y="235.6" width="69.1" height="21.6" fill="#D9D9D9" stroke="#404040" stroke-width="1.0"/>
<text x="387.05" y="250.6" font-size="11.5" fill="#1A1A1A" text-anchor="middle" >CACNB2</text>
<rect x="429.4" y="257.2" width="68.4" height="3.4" fill="#fff" stroke="#555" stroke-width="1"/>
<path d="M432.3,257.2 H438.4 V258.8 Q438.4,260.7 436.5,260.7 H434.2 Q432.3,260.7 432.3,258.8 Z" fill="#000"/>
<rect x="438" y="257.2" width="10" height="2.5" fill="#2a2a2a"/>
<path d="M447.5,257.2 H458.8 V258.8 Q458.8,260.7 456.9,260.7 H449.4 Q447.5,260.7 447.5,258.8 Z" fill="#000"/>
<rect x="466.7" y="257.2" width="11.3" height="2.5" fill="#2a2a2a"/>
<path d="M477.6,257.2 H483.9 V258.8 Q483.9,260.7 482,260.7 H479.5 Q477.6,260.7 477.6,258.8 Z" fill="#000"/>
<path d="M484.6,257.2 H491.6 V258.8 Q491.6,260.7 489.7,260.7 H486.5 Q484.6,260.7 484.6,258.8 Z" fill="#000"/>
<rect x="429.4" y="235.6" width="68.4" height="21.6" fill="#D9D9D9" stroke="#404040" stroke-width="1.0"/>
<text x="463.6" y="250.6" font-size="11.5" fill="#1A1A1A" text-anchor="middle" >DNM1</text>
<rect x="505.3" y="257.2" width="69.1" height="3.4" fill="#fff" stroke="#555" stroke-width="1"/>
<path d="M510.8,257.2 H516.5 V258.8 Q516.5,260.7 514.6,260.7 H512.7 Q510.8,260.7 510.8,258.8 Z" fill="#000"/>
<rect x="516" y="257.2" width="3.2" height="2.5" fill="#2a2a2a"/>
<path d="M518.8,257.2 H524.4 V258.8 Q524.4,260.7 522.5,260.7 H520.7 Q518.8,260.7 518.8,258.8 Z" fill="#000"/>
<rect x="524" y="257.2" width="8.8" height="2.5" fill="#2a2a2a"/>
<path d="M532.3,257.2 H539.1 V258.8 Q539.1,260.7 537.2,260.7 H534.2 Q532.3,260.7 532.3,258.8 Z" fill="#000"/>
<path d="M542.5,257.2 H547.2 V258.8 Q547.2,260.7 545.3,260.7 H544.4 Q542.5,260.7 542.5,258.8 Z" fill="#000"/>
<rect x="546.8" y="257.2" width="2.8" height="2.5" fill="#2a2a2a"/>
<path d="M549.3,257.2 H557.2 V258.8 Q557.2,260.7 555.3,260.7 H551.2 Q549.3,260.7 549.3,258.8 Z" fill="#000"/>
<rect x="556.8" y="257.2" width="5.2" height="2.5" fill="#2a2a2a"/>
<path d="M561.7,257.2 H567.4 V258.8 Q567.4,260.7 565.5,260.7 H563.6 Q561.7,260.7 561.7,258.8 Z" fill="#000"/>
<rect x="505.3" y="235.6" width="69.1" height="21.6" fill="#D9D9D9" stroke="#404040" stroke-width="1.0"/>
<text x="539.85" y="250.6" font-size="11.5" fill="#1A1A1A" text-anchor="middle" >DUSP1</text>
<rect x="348.8" y="257.1" width="3.7" height="3.6" fill="#222"/>
<text x="345.2" y="261.6" font-size="11.5" fill="#4D4D4D" text-anchor="end" >10000</text>
<text x="345.2" y="262.35" font-size="11.5" fill="#4D4D4D" text-anchor="end" >1000</text>
<text x="345.2" y="263.1" font-size="11.5" fill="#4D4D4D" text-anchor="end" >100</text>
<text x="345.2" y="263.85" font-size="11.5" fill="#4D4D4D" text-anchor="end" >10</text>
<text x="345.2" y="264.6" font-size="11.5" fill="#4D4D4D" text-anchor="end" >0</text>
<rect x="352.5" y="290.1" width="69.1" height="3.4" fill="#fff" stroke="#555" stroke-width="1"/>
<path d="M360.2,290.1 H376.3 V291.7 Q376.3,293.6 374.4,293.6 H362.1 Q360.2,293.6 360.2,291.7 Z" fill="#000"/>
<rect x="376" y="290.1" width="7.1" height="2.5" fill="#2a2a2a"/>
<path d="M389,290.1 H396.6 V291.7 Q396.6,293.6 394.7,293.6 H390.9 Q389,293.6 389,291.7 Z" fill="#000"/>
<rect x="396.2" y="290.1" width="3.4" height="2.5" fill="#2a2a2a"/>
<path d="M399.2,290.1 H413.6 V291.7 Q413.6,293.6 411.7,293.6 H401.1 Q399.2,293.6 399.2,291.7 Z" fill="#000"/>
<rect x="352.5" y="268.6" width="69.1" height="21.5" fill="#D9D9D9" stroke="#404040" stroke-width="1.0"/>
<text x="387.05" y="283.6" font-size="11.5" fill="#1A1A1A" text-anchor="middle" >PRSS35</text>
<line x1="371.34" y1="293.9" x2="371.34" y2="297.1" stroke="#333333" stroke-width="1.07" />
<text x="371.34" y="308.6" font-size="11.75" fill="#4D4D4D" text-anchor="middle" >trt</text>
<line x1="402.76" y1="293.9" x2="402.76" y2="297.1" stroke="#333333" stroke-width="1.07" />
<text x="402.76" y="308.6" font-size="11.75" fill="#4D4D4D" text-anchor="middle" >untrt</text>
<rect x="429.4" y="290.1" width="68.4" height="3.4" fill="#fff" stroke="#555" stroke-width="1"/>
<rect x="435" y="290.1" width="8.4" height="2.5" fill="#2a2a2a"/>
<path d="M443,290.1 H452 V291.7 Q452,293.6 450.1,293.6 H444.9 Q443,293.6 443,291.7 Z" fill="#000"/>
<rect x="451.6" y="290.1" width="4.2" height="2.5" fill="#2a2a2a"/>
<path d="M455.4,290.1 H462.2 V291.7 Q462.2,293.6 460.3,293.6 H457.3 Q455.4,293.6 455.4,291.7 Z" fill="#000"/>
<rect x="466.7" y="290.1" width="8.3" height="2.5" fill="#2a2a2a"/>
<path d="M474.6,290.1 H492.7 V291.7 Q492.7,293.6 490.8,293.6 H476.5 Q474.6,293.6 474.6,291.7 Z" fill="#000"/>
<rect x="429.4" y="268.6" width="68.4" height="21.5" fill="#D9D9D9" stroke="#404040" stroke-width="1.0"/>
<text x="463.6" y="283.6" font-size="11.5" fill="#1A1A1A" text-anchor="middle" >SPARCL1</text>
<line x1="448.05" y1="293.9" x2="448.05" y2="297.1" stroke="#333333" stroke-width="1.07" />
<text x="448.05" y="308.6" font-size="11.75" fill="#4D4D4D" text-anchor="middle" >trt</text>
<line x1="479.15" y1="293.9" x2="479.15" y2="297.1" stroke="#333333" stroke-width="1.07" />
<text x="479.15" y="308.6" font-size="11.75" fill="#4D4D4D" text-anchor="middle" >untrt</text>
<rect x="505.3" y="290.1" width="69.1" height="3.4" fill="#fff" stroke="#555" stroke-width="1"/>
<rect x="512" y="290.1" width="16.2" height="2.5" fill="#2a2a2a"/>
<path d="M527.8,290.1 H539.1 V291.7 Q539.1,293.6 537.2,293.6 H529.7 Q527.8,293.6 527.8,291.7 Z" fill="#000"/>
<rect x="543.6" y="290.1" width="9.4" height="2.5" fill="#2a2a2a"/>
<path d="M552.7,290.1 H570.8 V291.7 Q570.8,293.6 568.9,293.6 H554.6 Q552.7,293.6 552.7,291.7 Z" fill="#000"/>
<rect x="505.3" y="268.6" width="69.1" height="21.5" fill="#D9D9D9" stroke="#404040" stroke-width="1.0"/>
<text x="539.85" y="283.6" font-size="11.5" fill="#1A1A1A" text-anchor="middle" >ZBTB16</text>
<line x1="524.14" y1="293.9" x2="524.14" y2="297.1" stroke="#333333" stroke-width="1.07" />
<text x="524.14" y="308.6" font-size="11.75" fill="#4D4D4D" text-anchor="middle" >trt</text>
<line x1="555.56" y1="293.9" x2="555.56" y2="297.1" stroke="#333333" stroke-width="1.07" />
<text x="555.56" y="308.6" font-size="11.75" fill="#4D4D4D" text-anchor="middle" >untrt</text>
<rect x="348.8" y="290" width="3.7" height="3.6" fill="#222"/>
<text x="345.2" y="294.5" font-size="11.5" fill="#4D4D4D" text-anchor="end" >10000</text>
<text x="345.2" y="295.25" font-size="11.5" fill="#4D4D4D" text-anchor="end" >1000</text>
<text x="345.2" y="296" font-size="11.5" fill="#4D4D4D" text-anchor="end" >100</text>
<text x="345.2" y="296.75" font-size="11.5" fill="#4D4D4D" text-anchor="end" >10</text>
<text x="345.2" y="297.5" font-size="11.5" fill="#4D4D4D" text-anchor="end" >0</text>
<text x="463.8" y="333.7" font-size="14.75" fill="#000" text-anchor="middle" >Treatment</text>
<text transform="translate(307.2,275.9) rotate(-90)" font-size="14.4" fill="#000" text-anchor="middle">Scaled Counts</text>
<text x="596" y="254.5" font-size="14.6" fill="#000" text-anchor="start" >dex</text>
<line x1="607.7" y1="264.8" x2="607.7" y2="284.2" stroke="#333" stroke-width="1.07" />
<rect x="598.7" y="268.3" width="18" height="12.4" fill="#FF9A12" stroke="#333" stroke-width="1.07"/>
<line x1="598.7" y1="274.5" x2="616.7" y2="274.5" stroke="#333" stroke-width="1.07" />
<circle cx="607.7" cy="274.5" r="3.1" fill="#000" />
<text x="626.6" y="278.7" font-size="11.5" fill="#000" text-anchor="start" >trt</text>
<line x1="607.7" y1="287.8" x2="607.7" y2="307.2" stroke="#333" stroke-width="1.07" />
<rect x="598.7" y="291.3" width="18" height="12.4" fill="#000" stroke="#333" stroke-width="1.07"/>
<line x1="598.7" y1="297.5" x2="616.7" y2="297.5" stroke="#333" stroke-width="1.07" />
<text x="626.6" y="301.7" font-size="11.5" fill="#000" text-anchor="start" >untrt</text>
</g>
</svg>
</body></html>
